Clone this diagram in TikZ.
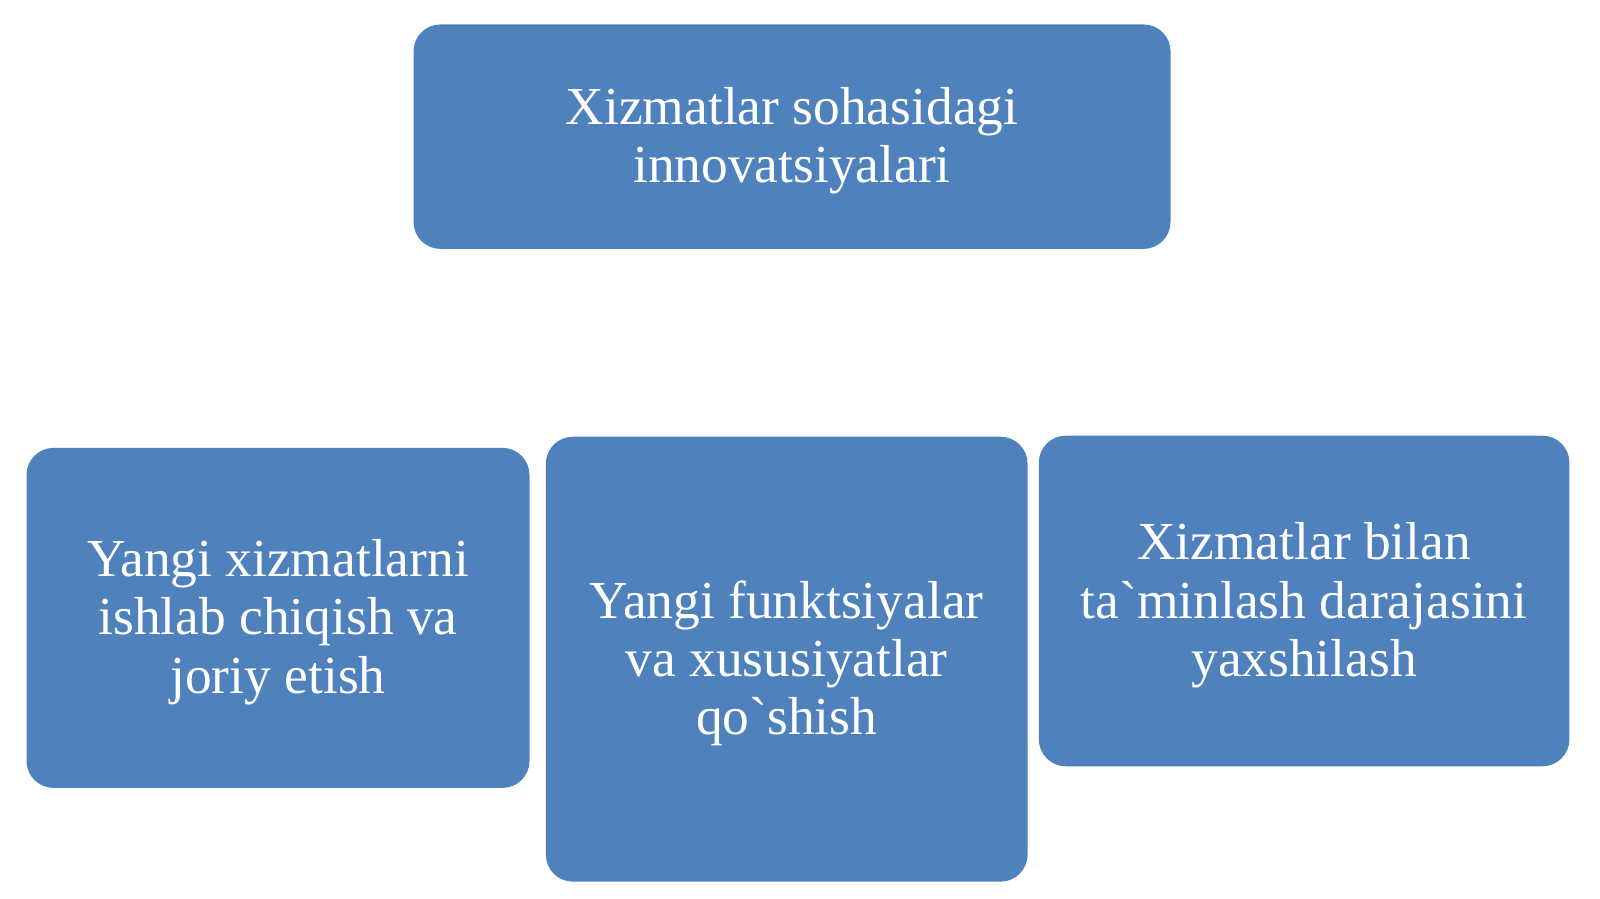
\documentclass[tikz,border=0pt]{standalone}
\usepackage{fontspec}
\setmainfont{Liberation Serif}
\usepackage{tikz}
\usetikzlibrary{positioning}
\definecolor{boxblue}{HTML}{4F81BD}

\begin{document}
\begin{tikzpicture}
  \tikzset{
  blk/.style={rectangle,rounded corners=0.27cm,fill=boxblue,text=white,align=center,
    font=\fontsize{15.2}{16.6}\selectfont,inner sep=0pt},
  }
  \useasboundingbox (0,0) rectangle (16,8.99);
  % the head box
  \node[blk,minimum width=7.57cm,minimum height=2.245cm] (head) at (7.92, 7.623)
    {\rule{0pt}{13pt}Xizmatlar sohasidagi\\innovatsiyalari};

  % the three boxes below
  \node[blk,minimum width=5.03cm,minimum height=3.40cm] (yangi) at (2.78, 2.811)
    {\rule{0pt}{13pt}Yangi xizmatlarni\\ishlab chiqish va\\joriy etish};
  \node[blk,minimum width=4.817cm,minimum height=4.449cm] (funk) at (7.867, 2.398)
    {\rule{0pt}{13pt}Yangi funktsiyalar\\va xususiyatlar\\qo\textasciigrave shish};
  \node[blk,minimum width=5.306cm,minimum height=3.306cm] (daraja) at (13.041, 2.98)
    {\rule{0pt}{13pt}Xizmatlar bilan\\ta\textasciigrave minlash darajasini\\yaxshilash};
\end{tikzpicture}
\end{document}
